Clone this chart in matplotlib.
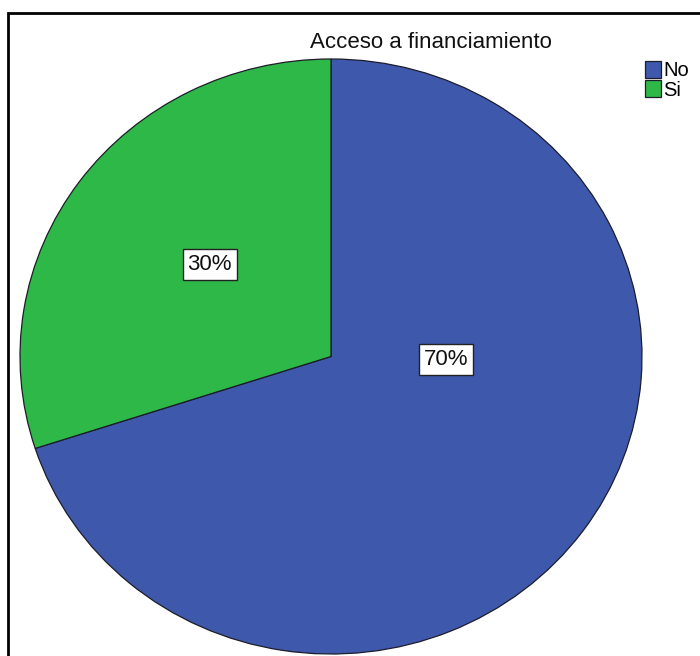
import matplotlib.pyplot as plt
from matplotlib.patches import Rectangle

# Respuestas: acceso a financiamiento
categorias = ["No", "Si"]
porcentajes = [70, 30]
colores = ["#3E58AC", "#2EB848"]

plt.rcParams['font.family'] = ['Liberation Sans', 'DejaVu Sans']

fig = plt.figure(figsize=(7.0, 6.56), dpi=100)

# marco exterior del grafico
fig.patches.append(Rectangle((7.5 / 700, -0.2), 1.2, 1.2 - 12.5 / 656,
                             transform=fig.transFigure, fill=False,
                             edgecolor="black", linewidth=2.0))

# eje sin aspecto fijo: la torta queda ligeramente ovalada
ax = fig.add_axes([20 / 700, 2 / 656, 622 / 700, 595 / 656])
wedges, _ = ax.pie(porcentajes, colors=colores, startangle=90, counterclock=False,
                   wedgeprops=dict(edgecolor="#1c1c2a", linewidth=0.9))
ax.set_aspect("auto")
ax.set_xlim(-1, 1)
ax.set_ylim(-1, 1)
ax.axis("off")

# posicion de las etiquetas dentro de cada sector (coordenadas del eje)
pos_etiquetas = [(0.37, -0.01), (-0.39, 0.31)]
for (x, y), p in zip(pos_etiquetas, porcentajes):
    ax.text(x, y, f"{p}%", ha="center", va="center", fontsize=16, color="#111111",
            bbox=dict(boxstyle="square,pad=0.22", facecolor="white",
                      edgecolor="#222222", linewidth=1.0))

fig.text(431 / 700, 1 - 42 / 656, "Acceso a financiamiento", ha="center", va="center",
         fontsize=16, color="#111111")

fig.legend(wedges, categorias, loc="upper left", bbox_to_anchor=(645 / 700, 1 - 61 / 656),
           frameon=False, fontsize=14.5, handlelength=0.8, handleheight=0.9,
           handletextpad=0.1, labelspacing=0.0, borderpad=0, borderaxespad=0)

fig.savefig("out.png", dpi=100)
